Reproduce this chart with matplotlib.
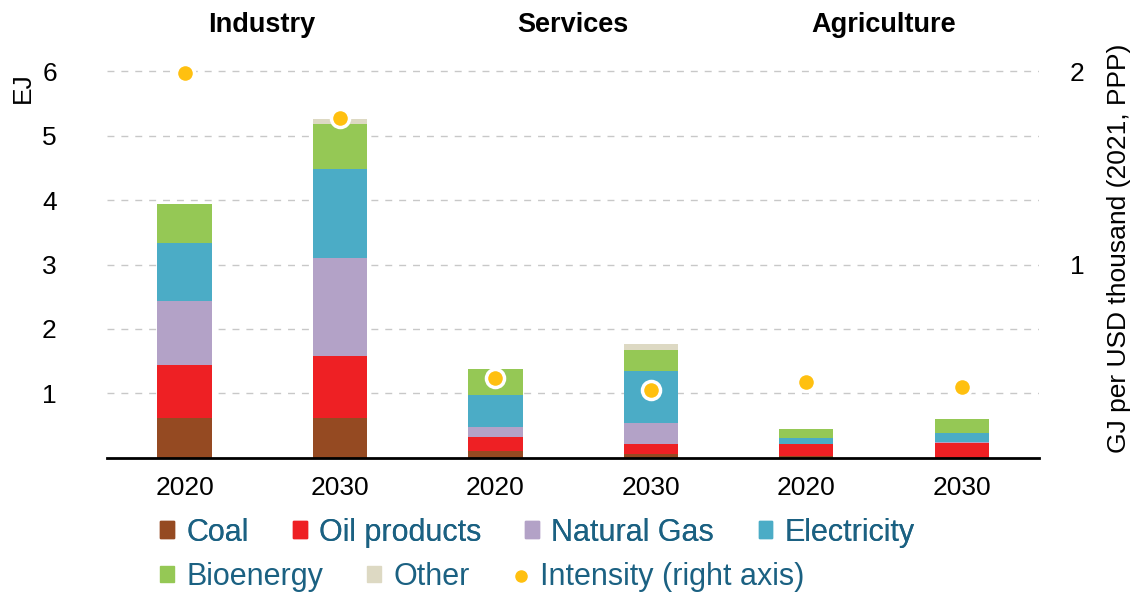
import matplotlib.pyplot as plt
import matplotlib.transforms as mtransforms
from matplotlib.patches import Patch
from matplotlib.lines import Line2D
import numpy as np

plt.rcParams['font.family'] = ['Liberation Sans', 'DejaVu Sans']

# data
sectors = ['Industry', 'Services', 'Agriculture']
years = ['2020', '2030', '2020', '2030', '2020', '2030']
coal = [0.62, 0.62, 0.10, 0.06, 0.02, 0.0]
oil = [0.82, 0.96, 0.22, 0.15, 0.19, 0.23]
gas = [0.99, 1.52, 0.15, 0.33, 0.0, 0.01]
electricity = [0.90, 1.38, 0.50, 0.81, 0.09, 0.14]
bioenergy = [0.61, 0.71, 0.40, 0.32, 0.14, 0.22]
other = [0.0, 0.07, 0.0, 0.09, 0.0, 0.0]
intensity = [1.99, 1.76, 0.41, 0.35, 0.39, 0.365]

series = [coal, oil, gas, electricity, bioenergy, other]
names = ['Coal', 'Oil products', 'Natural Gas', 'Electricity', 'Bioenergy', 'Other']
colors = ['#954A22', '#EE2024', '#B3A2C7', '#4BACC6', '#95C855', '#DDD9C3']
dot_color = '#FFC010'
text_color = '#1B6182'
fs = 19

fig = plt.figure(figsize=(11.36, 5.95), dpi=100)
ax = fig.add_axes([0.094, 0.231, 0.821, 0.703])

x = np.arange(len(years))
bottom = np.zeros(len(years))
for vals, c in zip(series, colors):
    ax.bar(x, vals, width=0.35, bottom=bottom, color=c, zorder=3)
    bottom += np.array(vals)

ax.set_xlim(-0.5, 5.5)
ax.set_ylim(0, 6.5)
ax.set_yticks([1, 2, 3, 4, 5, 6])
ax.set_xticks(x)
ax.set_xticklabels(years)
ax.grid(axis='y', color='#C8C8C8', linestyle=(0, (5, 5)), linewidth=1, zorder=0)
for s in ['top', 'left', 'right']:
    ax.spines[s].set_visible(False)
ax.spines['bottom'].set_linewidth(2)
ax.spines['bottom'].set_zorder(5)
ax.tick_params(axis='y', length=0, pad=36, labelsize=fs)
ax.tick_params(axis='x', length=0, pad=13, labelsize=fs)
fig.text(0.02, 0.853, 'EJ', rotation=90, fontsize=fs, ha='center', va='center')

ax2 = ax.twinx()
ax2.set_ylim(0, 6.5 / 3.0)
ax2.set_yticks([1, 2])
ax2.plot(x, intensity, 'o', color=dot_color, markersize=13,
         markeredgecolor='white', markeredgewidth=2.5, zorder=6)
for s in ['top', 'left', 'right', 'bottom']:
    ax2.spines[s].set_visible(False)
ax2.tick_params(axis='y', length=0, pad=22, labelsize=fs)
ax2.set_ylabel('GJ per USD thousand (2021, PPP)', fontsize=fs, labelpad=16)

trans = mtransforms.blended_transform_factory(ax.transData, fig.transFigure)
for i, name in enumerate(sectors):
    fig.text(2 * i + 0.5, 0.958, name, transform=trans, ha='center', va='center',
             fontsize=fs + 0.5, fontweight='bold')

handles = [Patch(color=c) for c in colors]
leg_kw = dict(frameon=False, fontsize=22, handlelength=0.45, handleheight=0.45,
              handletextpad=0.4, columnspacing=1.45, borderpad=0, borderaxespad=0,
              labelcolor=text_color, loc='center left')
leg1 = fig.legend(handles[:4], names[:4], bbox_to_anchor=(0.141, 0.105), ncol=4, **leg_kw)
dot = Line2D([], [], marker='o', color=dot_color, linestyle='none', markersize=8)
fig.legend(handles[4:] + [dot], names[4:] + ['Intensity (right axis)'],
           bbox_to_anchor=(0.141, 0.03), ncol=3, **leg_kw)
fig.add_artist(leg1)

fig.savefig('out.png', dpi=100)
